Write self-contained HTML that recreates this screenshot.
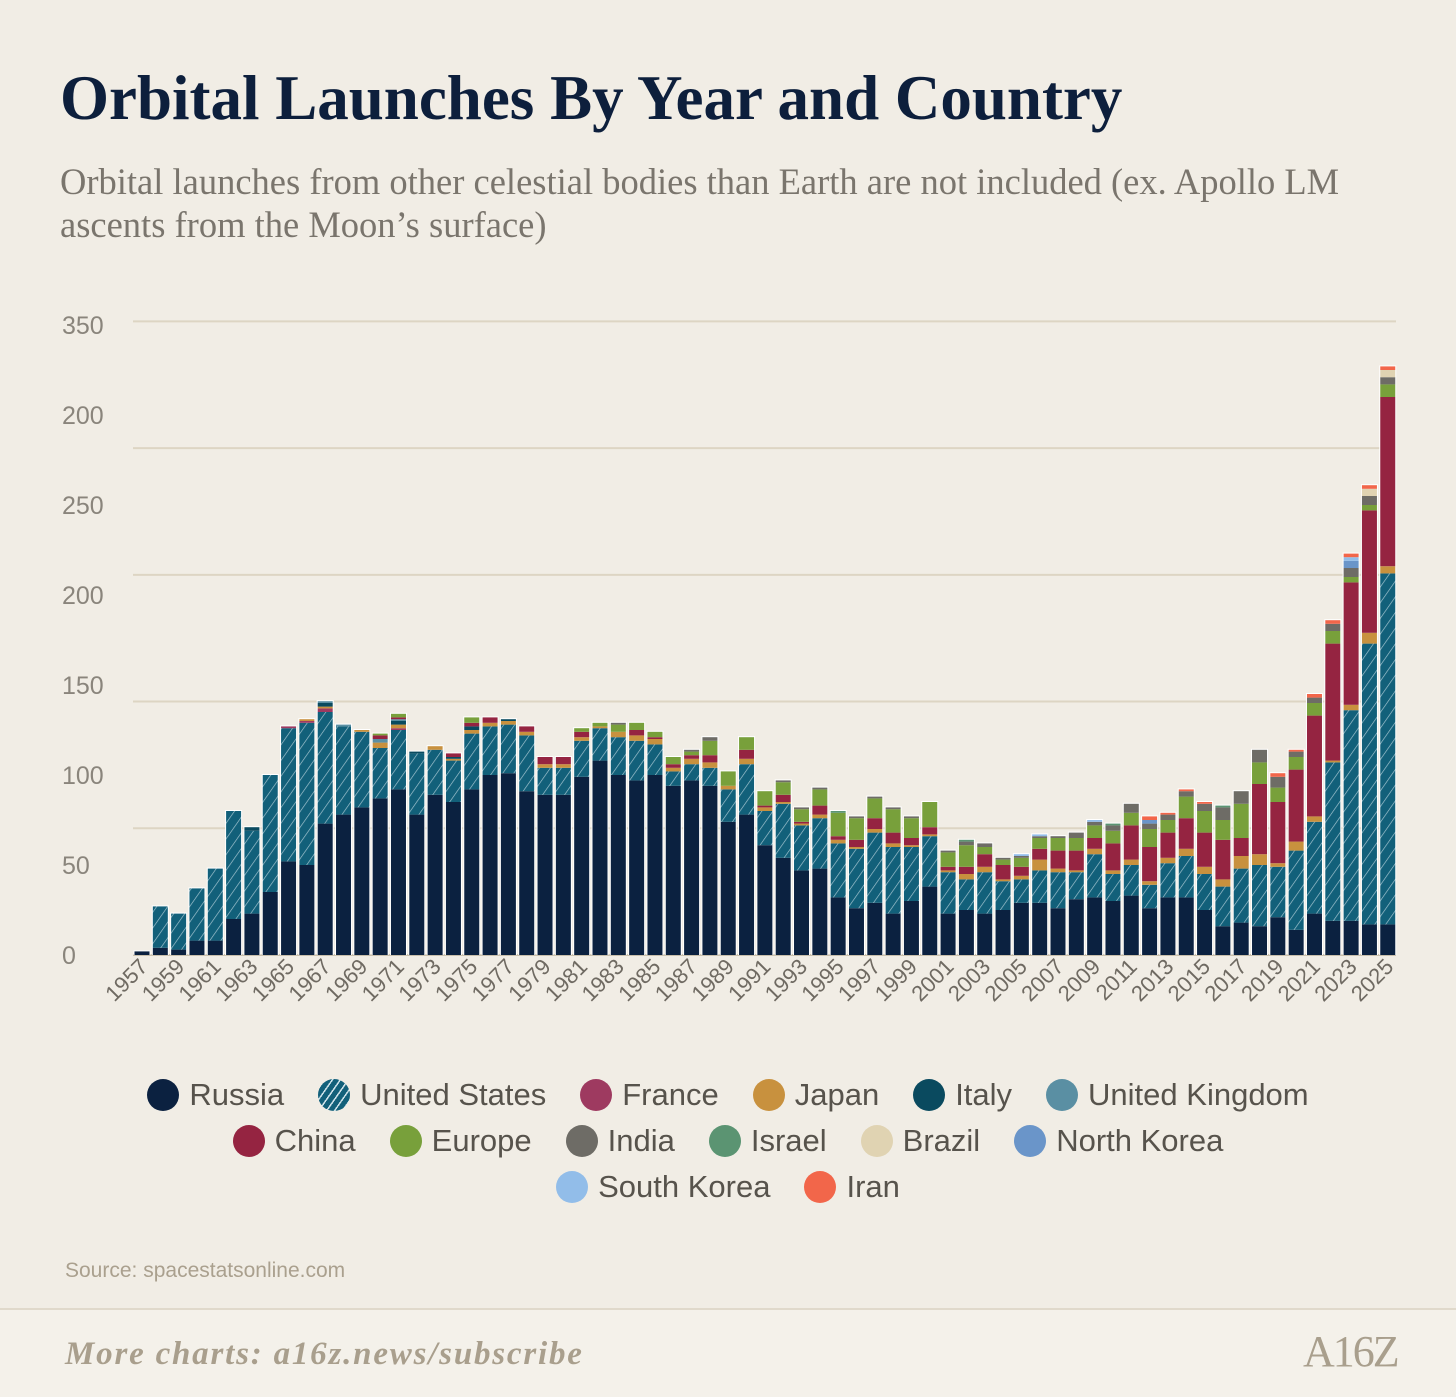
<!DOCTYPE html>
<html><head><meta charset="utf-8">
<style>
body{margin:0;background:#f1ede5;width:1456px;height:1395px;overflow:hidden;font-family:"Liberation Sans",sans-serif;}
#title{position:absolute;left:60px;top:62px;font-family:"Liberation Serif",serif;font-weight:bold;font-size:63px;color:#0d1f3c;letter-spacing:0px;margin:0;}
#subtitle{position:absolute;left:60px;top:160px;width:1340px;font-family:"Liberation Serif",serif;font-size:36.5px;line-height:43px;color:#7a756d;}
#source{position:absolute;left:65px;top:1259px;font-size:21px;color:#aaa08e;}
#footer{position:absolute;left:0;top:1308px;width:1456px;height:87px;background:#f4f1ea;border-top:2px solid #e0d9cb;}
#more{position:absolute;left:65px;top:1336px;font-family:"Liberation Serif",serif;font-style:italic;font-weight:bold;font-size:33px;letter-spacing:1.8px;color:#a99f8d;}
#logo{position:absolute;left:1303px;top:1326px;font-family:"Liberation Serif",serif;font-size:44px;color:#a99f8d;letter-spacing:-2px;}
#legend{position:absolute;left:0;top:1072px;width:1456px;}
.lrow{display:flex;justify-content:center;height:46px;align-items:center;}
.li{display:flex;align-items:center;margin:0 17px;font-size:31px;color:#57534c;}
.dot{width:32px;height:32px;border-radius:50%;margin-right:10px;}
</style></head><body>
<h1 id="title">Orbital Launches By Year and Country</h1>
<div id="subtitle">Orbital launches from other celestial bodies than Earth are not included (ex. Apollo LM ascents from the Moon’s surface)</div>
<svg id="chart" width="1456" height="1060" style="position:absolute;left:0;top:0">
<defs><pattern id="hatch" width="9" height="9" patternUnits="userSpaceOnUse" patternTransform="rotate(35)"><rect width="9" height="9" fill="#12607a"/><line x1="0" y1="0" x2="0" y2="9" stroke="#cfe3ea" stroke-width="1.3" opacity="0.8"/></pattern></defs>
<g id="grid"></g><g id="bars"></g><g id="ylabels"></g><g id="xlabels"></g>
</svg>
<div id="legend"></div>
<div id="source">Source: spacestatsonline.com</div>
<div id="footer"></div>
<div id="more">More charts: a16z.news/subscribe</div>
<div id="logo">A16Z</div>
<script>
const years=[];for(let y=1957;y<=2025;y++)years.push(y);
const yTickValues=[0,50,100,150,200,250,300,350];
const yTickLabels=["0","50","100","150","200","250","200","350"];
const gridValues=[70.4,140.8,211.2,281.6,352];
const russia=[2,4,3,8,8,20,23,35,52,50,73,78,82,87,92,78,89,85,92,100,101,91,89,89,99,108,100,97,100,94,97,94,74,78,61,54,47,48,32,26,29,23,30,38,23,25,23,25,29,29,26,31,32,30,33,26,32,32,25,16,18,16,21,14,23,19,19,17,17];
const usa=[0,23,20,29,40,60,46,65,74,79,62,49,42,28,33,34,25,23,31,27,27,31,15,15,20,18,21,22,17,8,9,10,18,28,19,30,25,28,30,33,39,37,30,28,23,17,23,16,13,18,20,15,24,15,17,13,19,23,20,22,30,34,28,44,51,88,117,156,195];
const france=[0,0,0,0,0,0,0,0,1,1,2,0,0,0,1,0,0,0,0,0,0,0,0,0,0,0,0,0,0,0,0,0,0,0,0,0,0,0,0,0,0,0,0,0,0,0,0,0,0,0,0,0,0,0,0,0,0,0,0,0,0,0,0,0,0,0,0,0,0];
const japan=[0,0,0,0,0,0,0,0,0,1,1,0,1,3,2,0,2,1,2,2,2,2,2,2,2,1,3,3,3,2,3,3,2,3,2,1,1,2,2,1,2,2,1,1,1,3,3,1,2,6,2,1,3,2,3,2,3,4,4,4,7,6,2,5,3,1,3,6,4];
const italy=[0,0,0,0,0,0,2,0,0,0,2,0,0,0,2,1,0,1,2,0,1,0,0,0,0,0,0,0,0,0,0,0,0,0,0,0,0,0,0,0,0,0,0,0,0,0,0,0,0,0,0,0,0,0,0,0,0,0,0,0,0,0,0,0,0,0,0,0,0];
const uk=[0,0,0,0,0,0,0,0,0,0,1,1,0,2,1,0,0,0,0,0,0,0,0,0,0,0,0,0,0,0,0,0,0,0,0,0,0,0,0,0,0,0,0,0,0,0,0,0,0,0,0,0,0,0,0,0,0,0,0,0,0,0,0,0,0,0,0,0,0];
const china=[0,0,0,0,0,0,0,0,0,0,0,0,0,2,1,0,0,2,2,3,0,3,4,4,3,0,0,3,1,2,2,4,0,5,1,4,1,5,2,4,6,6,4,4,2,4,7,8,5,6,10,11,6,15,19,19,14,17,19,22,10,39,34,40,56,65,68,68,94];
const europe=[0,0,0,0,0,0,0,0,0,0,0,0,0,1,2,0,0,0,3,0,0,0,0,0,2,2,4,4,3,4,2,8,8,7,8,7,7,9,13,12,11,13,11,14,8,12,4,3,5,6,7,7,7,7,7,10,7,12,12,11,19,12,8,7,7,7,3,3,7];
const india=[0,0,0,0,0,0,0,0,0,0,0,0,0,0,0,0,0,0,0,0,0,0,0,0,0,0,1,0,0,0,1,2,0,0,0,1,1,1,0,1,1,1,1,0,1,2,2,1,1,1,1,3,2,3,5,3,3,3,4,7,7,7,6,3,3,4,5,5,4];
const israel=[0,0,0,0,0,0,0,0,0,0,0,0,0,0,0,0,0,0,0,0,0,0,0,0,0,0,0,0,0,0,0,0,0,0,0,0,0,0,1,0,0,0,0,0,0,1,0,0,0,0,0,0,0,1,0,0,0,0,0,1,0,0,0,0,0,0,0,0,0];
const brazil=[0,0,0,0,0,0,0,0,0,0,0,0,0,0,0,0,0,0,0,0,0,0,0,0,0,0,0,0,0,0,0,0,0,0,0,0,0,0,0,0,0,0,0,0,0,0,0,0,0,0,0,0,0,0,0,0,0,0,0,0,0,0,0,0,0,0,0,4,4];
const northKorea=[0,0,0,0,0,0,0,0,0,0,0,0,0,0,0,0,0,0,0,0,0,0,0,0,0,0,0,0,0,0,0,0,0,0,0,0,0,0,0,0,0,0,0,0,0,0,0,0,0,0,0,0,0,0,0,2,0,0,0,0,0,0,0,0,0,0,4,0,0];
const southKorea=[0,0,0,0,0,0,0,0,0,0,0,0,0,0,0,0,0,0,0,0,0,0,0,0,0,0,0,0,0,0,0,0,0,0,0,0,0,0,0,0,0,0,0,0,0,0,0,0,1,1,0,0,1,0,0,0,0,0,0,0,0,0,0,0,0,0,2,0,0];
const iran=[0,0,0,0,0,0,0,0,0,0,0,0,0,0,0,0,0,0,0,0,0,0,0,0,0,0,0,0,0,0,0,0,0,0,0,0,0,0,0,0,0,0,0,0,0,0,0,0,0,0,0,0,0,0,0,2,1,1,1,0,0,0,2,1,2,2,2,2,2];
const seriesNames=["Russia","United States","France","Japan","Italy","United Kingdom","China","Europe","India","Israel","Brazil","North Korea","South Korea","Iran"];
const seriesData=[russia,usa,france,japan,italy,uk,china,europe,india,israel,brazil,northKorea,southKorea,iran];
const colors=["#0b2140","url(#hatch)","#9e3a60","#c8913e","#0a4a5f","#5a8fa3","#952441","#78a03b","#6e6c66","#5b9472","#e0d3b2","#6a95c9","#92bde9","#f2664a"];
const legendColors=["#0b2140","#12607a","#9e3a60","#c8913e","#0a4a5f","#5a8fa3","#952441","#78a03b","#6e6c66","#5b9472","#e0d3b2","#6a95c9","#92bde9","#f2664a"];
const NS="http://www.w3.org/2000/svg";
const y0=955,ppu=1.8,x0=142,step=18.32,bw=15;
const yS=v=>y0-v*ppu;
const xS=i=>x0+i*step;
const grid=document.getElementById('grid');
gridValues.forEach(v=>{const l=document.createElementNS(NS,'line');


l.setAttribute('x1',133);l.setAttribute('x2',1396);l.setAttribute('y1',yS(v));l.setAttribute('y2',yS(v));l.setAttribute('stroke','#ddd5c3');l.setAttribute('stroke-width',2);grid.appendChild(l);});
const base=document.createElementNS(NS,'line');


base.setAttribute('x1',133);base.setAttribute('x2',1396);base.setAttribute('y1',y0);base.setAttribute('y2',y0);base.setAttribute('stroke','#c9bfab');base.setAttribute('stroke-width',2);grid.appendChild(base);
const yl=document.getElementById('ylabels');
yTickValues.forEach((v,i)=>{const t=document.createElementNS(NS,'text');


t.setAttribute('x',62);t.setAttribute('y',yS(v)+9);t.setAttribute('font-size',25);t.setAttribute('fill','#8a857c');t.setAttribute('font-family','Liberation Sans, sans-serif');t.textContent=yTickLabels[i];yl.appendChild(t);});
const bars=document.getElementById('bars');
years.forEach((yr,i)=>{let acc=0;const g=document.createElementNS(NS,'g');


let total=0;seriesData.forEach(s=>total+=s[i]);
if(total>0){const o=document.createElementNS(NS,'rect');


o.setAttribute('x',xS(i)-bw/2-1);o.setAttribute('y',yS(total)-1);o.setAttribute('width',bw+2);o.setAttribute('height',total*ppu+1);o.setAttribute('fill','#ffffff');g.appendChild(o);}
seriesData.forEach((s,k)=>{const v=s[i];if(!v)return;const r=document.createElementNS(NS,'rect');


r.setAttribute('x',xS(i)-bw/2);r.setAttribute('y',yS(acc+v));r.setAttribute('width',bw);r.setAttribute('height',v*ppu);r.setAttribute('fill',colors[k]);g.appendChild(r);acc+=v;});
bars.appendChild(g);});
const xl=document.getElementById('xlabels');
years.forEach((yr,i)=>{if((yr-1957)%2)return;const t=document.createElementNS(NS,'text');


const x=xS(i)+7,y=968;t.setAttribute('x',x);t.setAttribute('y',y);t.setAttribute('text-anchor','end');t.setAttribute('transform','rotate(-45 '+x+' '+y+')');t.setAttribute('font-size',22);t.setAttribute('fill','#6f6a62');t.setAttribute('font-family','Liberation Sans, sans-serif');t.textContent=yr;xl.appendChild(t);});
const rows=[[0,1,2,3,4,5],[6,7,8,9,10,11],[12,13]];
const lg=document.getElementById('legend');
rows.forEach(r=>{const row=document.createElement('div');row.className='lrow';


r.forEach(k=>{const it=document.createElement('div');it.className='li';


const d=document.createElement('span');d.className='dot';
d.style.background=k===1?'repeating-linear-gradient(125deg,#12607a 0 5px,#cfe3ea 5px 6.5px)':legendColors[k];
it.appendChild(d);it.appendChild(document.createTextNode(seriesNames[k]));row.appendChild(it);});
lg.appendChild(row);});
</script>
</body></html>
